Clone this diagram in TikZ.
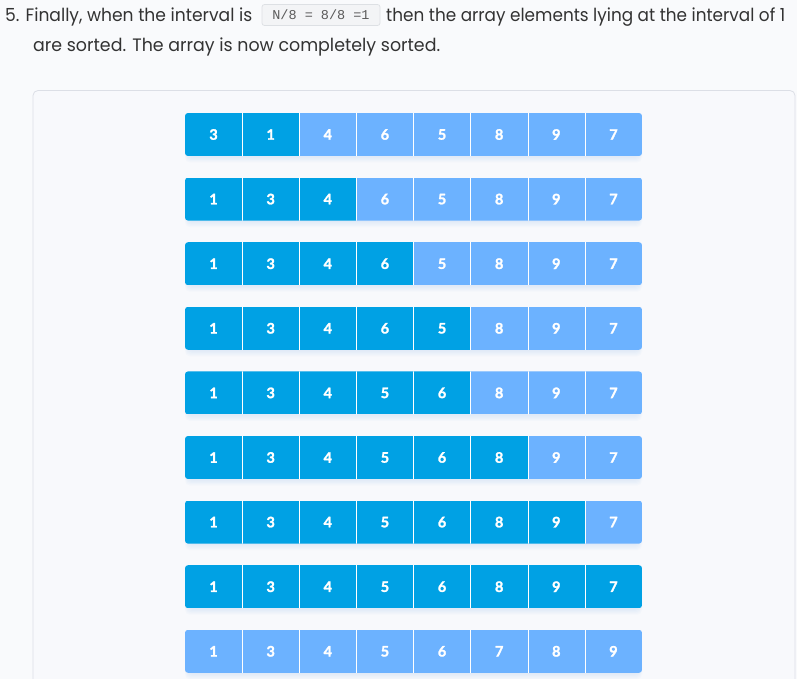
\documentclass[tikz,border=0pt]{standalone}
\usepackage{graphicx}
\usepackage{fontspec}
\setmainfont{Poppins}
\newfontfamily\cellnumfont{Lato Bold}[FakeBold=1.6]
\newfontfamily\codefont{Liberation Mono}
\definecolor{pagebg}{HTML}{F9FAFC}
\definecolor{boxbg}{HTML}{F8F9FC}
\definecolor{boxline}{HTML}{DCDFE6}
\definecolor{txt}{HTML}{333333}
\definecolor{codebg}{HTML}{F3F4F6}
\definecolor{codeline}{HTML}{DDE0E4}
\definecolor{codetxt}{HTML}{5A5A5A}
\definecolor{dk}{HTML}{00A1E4}
\definecolor{lt}{HTML}{6CB2FF}
\definecolor{shadowc}{HTML}{9CC3F0}
\newsavebox\fitbox
\newcommand\fitto[2]{\sbox\fitbox{#2}\pgfmathsetmacro\fitsx{#1/\the\wd\fitbox}\scalebox{\fitsx}[1]{\usebox\fitbox}}
\tikzset{
  para/.style={anchor=base west, inner sep=0pt, text=txt, font=\fontsize{18}{20}\selectfont},
  cell/.style={rectangle, minimum width=57.125pt, minimum height=43pt, inner sep=0pt, text=white},
  sepline/.style={white, line width=0.9pt},
}
\newcommand\arow[3]{%
  \pgfmathsetmacro\ytop{113+64.6*(#1-1)}
  \foreach \k in {1,...,5}
    \fill[shadowc, opacity=0.05, rounded corners=5pt] (185+3-\k*0.6, \ytop+6) rectangle (642-3+\k*0.6, \ytop+43+\k*1.3);
  \begin{scope}
    \clip[rounded corners=3pt] (185,\ytop) rectangle (642,\ytop+43);
    \foreach \v [count=\c] in {#3} {
      \pgfmathsetmacro\xc{185+57.125*(\c-0.5)}
      \ifnum\c>#2 \def\cc{lt}\else\def\cc{dk}\fi
      \node[cell, fill=\cc] (r#1c\c) at (\xc,\ytop+21.5) {\cellnumfont\fontsize{14.5}{16}\selectfont \v};
    }
    \foreach \c in {1,...,7}
      \draw[sepline] (r#1c\c.north east) -- (r#1c\c.south east);
  \end{scope}
}
\begin{document}
\begin{tikzpicture}[x=1pt,y=-1pt]
\useasboundingbox (0,0) rectangle (797,679);
\clip (0,0) rectangle (797,679);
\fill[pagebg] (0,0) rectangle (797,679);
\draw[boxline, fill=boxbg, line width=0.8pt, rounded corners=5pt] (33,90.5) rectangle (795,720);
\node[para] (t1) at (5,22) {\fitto{247}{5. Finally, when the interval is}};
\node[draw=codeline, fill=codebg, rounded corners=2.5pt, line width=0.7pt, minimum width=118pt, minimum height=21pt, inner sep=0pt, text=codetxt, font=\codefont\fontsize{13.5}{15}\selectfont] (code) at (321,15) {N/8 = 8/8 =1};
\node[para] (t2) at (386,22) {\fitto{399}{then the array elements lying at the interval of 1}};
\node[para] (t3) at (33,52) {\fitto{407}{are sorted. The array is now completely sorted.}};
\arow{1}{2}{3,1,4,6,5,8,9,7}
\arow{2}{3}{1,3,4,6,5,8,9,7}
\arow{3}{4}{1,3,4,6,5,8,9,7}
\arow{4}{5}{1,3,4,6,5,8,9,7}
\arow{5}{5}{1,3,4,5,6,8,9,7}
\arow{6}{6}{1,3,4,5,6,8,9,7}
\arow{7}{7}{1,3,4,5,6,8,9,7}
\arow{8}{8}{1,3,4,5,6,8,9,7}
\arow{9}{0}{1,3,4,5,6,7,8,9}
\end{tikzpicture}
\end{document}
